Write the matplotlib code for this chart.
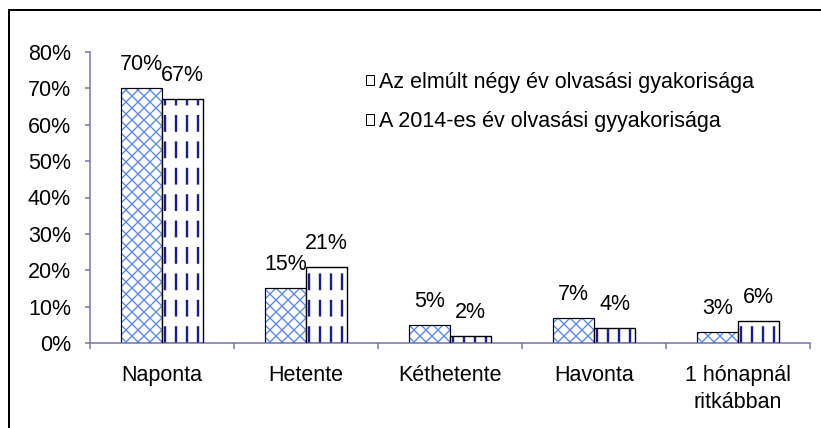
import matplotlib.pyplot as plt
import numpy as np
from matplotlib.patches import Patch
from matplotlib.lines import Line2D

categories = ['Naponta', 'Hetente', 'Kéthetente', 'Havonta', '1 hónapnál\nritkábban']
negy_ev = [70, 15, 5, 7, 3]
ev_2014 = [67, 21, 2, 4, 6]
series_names = ['Az elmúlt négy év olvasási gyakorisága',
                'A 2014-es év olvasási gyyakorisága']
yticks = [0, 10, 20, 30, 40, 50, 60, 70, 80]

plt.rcParams['font.family'] = ['Liberation Sans', 'DejaVu Sans']
plt.rcParams['hatch.linewidth'] = 1.3

DPI = 72
FS = 21.5
fig = plt.figure(figsize=(821 / DPI, 428 / DPI), dpi=DPI)
ax = fig.add_axes([90 / 821, 1 - 343 / 428, (810 - 90) / 821, (343 - 52) / 428])

axis_col = '#7272a8'
hatch_col = '#5585f2'
dash_col = '#1c1c8e'
w = 0.285
x = np.arange(len(categories))

# first series: blue crosshatch with black outline
ax.bar(x - w / 2, negy_ev, w, color='white', edgecolor=hatch_col, hatch='xx', linewidth=0)
ax.bar(x - w / 2, negy_ev, w, fill=False, edgecolor='black', linewidth=1.2)

# second series: dashed vertical navy lines
bars2 = ax.bar(x + w / 2, ev_2014, w, color='white', edgecolor='black', linewidth=1.2, zorder=2)
step = 11 / 144
for b in bars2:
    left = b.get_x()
    xs = np.arange(left + 0.02, left + b.get_width(), step)
    lc = ax.vlines(xs, 0, b.get_height(), colors=dash_col, linewidth=2.4,
                   linestyles=(0, (7, 4)), zorder=2.5)
    lc.set_clip_path(b)
for b in bars2:
    ax.add_patch(plt.Rectangle((b.get_x(), 0), b.get_width(), b.get_height(),
                               fill=False, edgecolor='black', linewidth=1.2, zorder=3))

for i in range(len(categories)):
    ax.annotate(f'{negy_ev[i]}%', (x[i] - w / 2, negy_ev[i]), xytext=(0, 13),
                textcoords='offset points', ha='center', va='bottom', fontsize=FS)
    ax.annotate(f'{ev_2014[i]}%', (x[i] + w / 2, ev_2014[i]), xytext=(0, 13),
                textcoords='offset points', ha='center', va='bottom', fontsize=FS)

ax.set_xlim(-0.5, len(categories) - 0.5)
ax.set_ylim(0, 80)
ax.set_yticks(yticks)
ax.set_yticklabels([f'{v}%' for v in yticks], fontsize=FS)
ax.set_xticks(x)
ax.set_xticklabels(categories, fontsize=FS, linespacing=1.4)
ax.set_xticks(np.arange(len(categories) + 1) - 0.5, minor=True)
ax.tick_params(axis='x', which='major', length=0, pad=22)
ax.tick_params(axis='x', which='minor', length=6, width=1.5, color=axis_col, direction='out')
ax.tick_params(axis='y', length=5, width=1.5, color=axis_col, direction='out', pad=14)

for s in ['top', 'right']:
    ax.spines[s].set_visible(False)
for s in ['left', 'bottom']:
    ax.spines[s].set_color(axis_col)
    ax.spines[s].set_linewidth(1.5)

handles = [Patch(facecolor='white', edgecolor='black', linewidth=1),
           Patch(facecolor='white', edgecolor='black', linewidth=1, hatch='|')]
fig.legend(handles, series_names, loc='upper left', bbox_to_anchor=(355 / 821, 1 - 61 / 428),
           frameon=False, fontsize=FS, handlelength=0.4, handleheight=0.4,
           handletextpad=0.2, labelspacing=0.85, borderpad=0)

# outer border
fig.add_artist(Line2D([9 / 821, 9 / 821], [0, 1 - 10 / 428], color='black', linewidth=2,
                      transform=fig.transFigure))
fig.add_artist(Line2D([9 / 821, 1], [1 - 10 / 428, 1 - 10 / 428], color='black', linewidth=2,
                      transform=fig.transFigure))

fig.savefig('out.png', dpi=DPI)
